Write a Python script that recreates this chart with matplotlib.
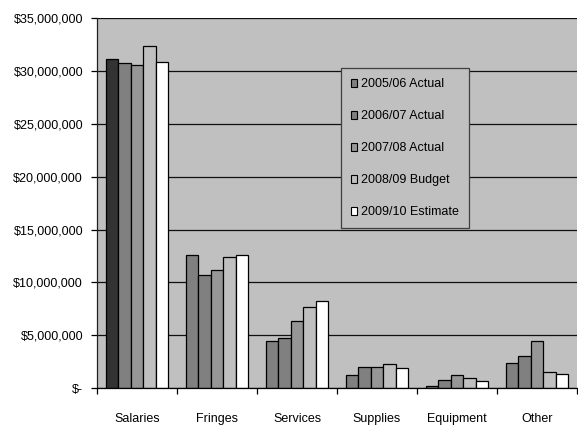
import matplotlib
matplotlib.use("Agg")
import matplotlib.pyplot as plt
from matplotlib.patches import Patch
from matplotlib.ticker import FuncFormatter, MultipleLocator
import numpy as np

plt.rcParams['font.family'] = ['Liberation Sans Narrow', 'Liberation Sans', 'DejaVu Sans']

categories = ["Salaries", "Fringes", "Services", "Supplies", "Equipment", "Other"]
series_names = ["2005/06 Actual", "2006/07 Actual", "2007/08 Actual",
                "2008/09 Budget", "2009/10 Estimate"]
actual_0506 = [31170000, 12570000, 4480000, 1260000, 250000, 2430000]
actual_0607 = [30730000, 10710000, 4730000, 1990000, 820000, 3030000]
actual_0708 = [30600000, 11180000, 6350000, 1990000, 1290000, 4480000]
budget_0809 = [32370000, 12440000, 7640000, 2300000, 1010000, 1580000]
estimate_0910 = [30850000, 12570000, 8210000, 1890000, 690000, 1390000]
series_values = [actual_0506, actual_0607, actual_0708, budget_0809, estimate_0910]
series_colors = ["#808080", "#808080", "#969696", "#c0c0c0", "#ffffff"]
salaries_first_color = "#333333"

fig = plt.figure(figsize=(5.78, 4.25), dpi=100)
ax = fig.add_axes([0.1678, 0.0864, 0.8305, 0.8712])
ax.set_facecolor("#c0c0c0")

n = len(series_values)
group_w = 0.775
bar_w = group_w / n
x = np.arange(len(categories))
for i, (vals, col) in enumerate(zip(series_values, series_colors)):
    offs = -group_w / 2 + bar_w * (i + 0.5)
    bars = ax.bar(x + offs, vals, width=bar_w, color=col, edgecolor="black",
                  linewidth=0.9, zorder=3)
    if i == 0:
        bars[0].set_facecolor(salaries_first_color)

ax.set_xlim(-0.5, len(categories) - 0.5)
ax.set_ylim(0, 35000000)
ax.yaxis.set_major_locator(MultipleLocator(5000000))


def money(v, pos):
    if v == 0:
        return "$-"
    return "${:,.0f}".format(v)


ax.yaxis.set_major_formatter(FuncFormatter(money))
ax.grid(axis="y", color="#101010", linewidth=0.9, zorder=1)

ax.set_xticks(x)
ax.set_xticklabels(categories)
ax.set_xticks(np.arange(len(categories) + 1) - 0.5, minor=True)
ax.tick_params(axis="x", which="major", length=0, pad=18, labelsize=9)
ax.tick_params(axis="x", which="minor", length=4, width=0.9, direction="out")
ax.tick_params(axis="y", length=4, width=0.9, pad=6, labelsize=9)

for side in ["top", "right"]:
    ax.spines[side].set_visible(False)
ax.spines["left"].set_color("#202020")
ax.spines["bottom"].set_color("#000000")
ax.spines["left"].set_linewidth(0.9)
ax.spines["bottom"].set_linewidth(0.9)
ax.spines["bottom"].set_zorder(4)

handles = [Patch(facecolor=c, edgecolor="black", linewidth=0.8) for c in series_colors]
leg = ax.legend(handles, series_names, loc="upper left",
                bbox_to_anchor=(0.508, 0.864), borderaxespad=0,
                fancybox=False, frameon=True, fontsize=9,
                handlelength=0.5, handleheight=0.65, handletextpad=0.32,
                labelspacing=1.6, borderpad=0.8)
leg.get_frame().set_facecolor("#c0c0c0")
leg.get_frame().set_edgecolor("#404040")
leg.get_frame().set_linewidth(0.9)
leg.get_frame().set_alpha(1)

fig.savefig("out.png", dpi=100, facecolor="white")
